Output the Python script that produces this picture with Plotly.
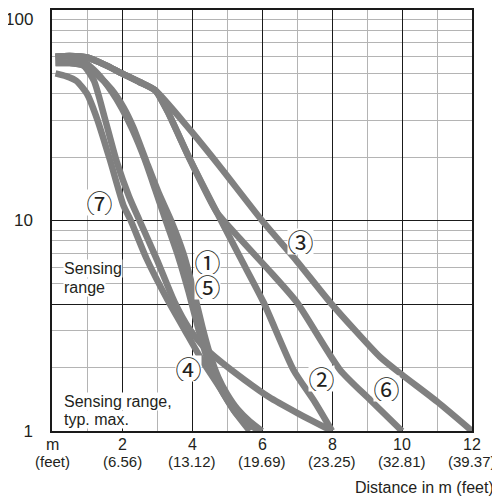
import numpy as np
import plotly.graph_objects as go

# curves, distance in m vs. % (log scale)
c1_x = [0.1, 0.5, 0.9, 1.3, 1.7, 2.0, 2.3, 2.65, 2.95, 3.25, 3.6, 3.9, 4.15, 4.4, 4.65, 4.9, 5.25, 5.6, 5.94]
c1_y = [60, 60, 57, 50, 41, 34, 27, 19.5, 14, 10, 6.8, 4.6, 3.2, 2.3, 1.8, 1.5, 1.22, 1.08, 1.0]

c2_x = [0.1, 0.5, 1.0, 1.5, 2.0, 2.5, 2.95, 3.3, 3.94, 4.7, 5.37, 6.04, 6.9, 7.5, 8.0]
c2_y = [60, 60.5, 59.5, 55, 50, 45.5, 41.5, 33, 19.5, 11, 6.7, 4.1, 1.95, 1.38, 1.0]

c3_x = [0.1, 0.5, 1.0, 1.5, 2.0, 2.5, 2.95, 3.94, 4.8, 6.0, 7.0, 7.94, 9.37, 10.0, 11.0, 12.0]
c3_y = [60, 60.5, 59.5, 55, 50, 45.5, 41.5, 27, 18, 10, 6.4, 4.1, 2.25, 1.85, 1.38, 1.0]

c4_x = [0.1, 0.5, 0.9, 1.2, 1.5, 1.85, 2.2, 2.5, 3.0, 3.5, 3.9, 4.3, 4.8, 5.5, 6.2, 7.0, 8.0]
c4_y = [56, 56, 54.5, 46, 31, 19, 13, 10, 6.5, 4.1, 3.1, 2.55, 2.15, 1.75, 1.45, 1.22, 1.0]

c5_x = [0.1, 0.5, 0.9, 1.3, 1.7, 2.04, 2.32, 2.7, 3.05, 3.4, 3.75, 4.05, 4.3, 4.5, 4.75, 5.0, 5.3, 5.65, 6.0]
c5_y = [56, 56, 54.5, 49, 42, 34.6, 27.8, 19, 13.5, 10, 7.0, 4.6, 3.1, 2.35, 1.8, 1.5, 1.27, 1.11, 1.0]

c6_x = [0.1, 0.5, 1.0, 1.5, 2.0, 2.5, 2.95, 3.3, 3.94, 4.7, 5.37, 6.2, 6.99, 8.23, 9.1, 10.0]
c6_y = [60, 60.5, 59.5, 55, 50, 45.5, 41.5, 33, 19.5, 11, 8.2, 5.8, 4.1, 1.95, 1.4, 1.0]

c7_x = [0.1, 0.4, 0.7, 1.0, 1.3, 1.66, 2.04, 2.25, 2.7, 3.3, 3.8, 4.3, 4.8, 5.2, 5.65]
c7_y = [50, 48.5, 46, 40, 30, 19.3, 11.8, 10, 6.6, 4.2, 3.0, 2.15, 1.6, 1.25, 1.0]

curves = [(c1_x, c1_y), (c2_x, c2_y), (c3_x, c3_y), (c4_x, c4_y),
          (c5_x, c5_y), (c6_x, c6_y), (c7_x, c7_y)]

# curve labels (⑤ drawn before ① so ① stays on top)
lab_text = ["⑤", "①", "②", "③", "④", "⑥", "⑦"]
lab_x = [4.44, 4.44, 7.7, 7.09, 3.9, 9.56, 1.37]
lab_y = [4.88, 6.36, 1.78, 7.97, 1.98, 1.59, 12.2]

# axes
x_ticks = [0, 2, 4, 6, 8, 10, 12]
x_minor = [1, 3, 5, 7, 9, 11]
x_m = ["m", "2", "4", "6", "8", "10", "12"]
x_ft = ["(feet)", "(6.56)", "(13.12)", "(19.69)", "(23.25)", "(32.81)", "(39.37)"]
y_ticks = [1, 4, 10, 100]
y_text = ["1", "", "10", ""]
y_minor = [2, 3, 5, 6, 7, 8, 9, 20, 30, 40, 50, 60, 70, 80, 90]

FONT = "Liberation Sans"
TXT = "#231f20"
CURVE = "#808080"

fig = go.Figure()

for cx, cy in curves:
    fig.add_trace(go.Scatter(
        x=cx, y=cy, mode="lines",
        line=dict(color=CURVE, width=6.5, shape="spline", smoothing=0.6),
        showlegend=False, hoverinfo="skip",
    ))

for t, lx, ly in zip(lab_text, lab_x, lab_y):
    fig.add_annotation(
        x=lx, y=np.log10(ly), text=t, showarrow=False,
        font=dict(family="Noto Sans CJK JP", size=26, color=TXT),
        bgcolor="white", borderpad=0, height=25, width=25,
    )

# text boxes
fig.add_annotation(x=0.31, y=np.log10(5.9), text="Sensing", xanchor="left",
                   showarrow=False, font=dict(family=FONT, size=16, color=TXT),
                   bgcolor="white", borderpad=0)
fig.add_annotation(x=0.31, y=np.log10(4.8), text="range", xanchor="left",
                   showarrow=False, font=dict(family=FONT, size=16, color=TXT),
                   bgcolor="white", borderpad=0)
fig.add_annotation(x=0.31, y=np.log10(1.38), text="Sensing range,", xanchor="left",
                   showarrow=False, font=dict(family=FONT, size=16, color=TXT),
                   bgcolor="white", borderpad=0)
fig.add_annotation(x=0.31, y=np.log10(1.14), text="typ. max.", xanchor="left",
                   showarrow=False, font=dict(family=FONT, size=16, color=TXT),
                   bgcolor="white", borderpad=0)

# top tick label, kept inside the page
fig.add_annotation(x=0, xref="paper", xanchor="right", xshift=-17,
                   y=1, yref="paper", yanchor="top", yshift=2,
                   text="100", showarrow=False,
                   font=dict(family=FONT, size=17, color=TXT))

for xv, m, ft in zip(x_ticks, x_m, x_ft):
    fig.add_annotation(x=xv, y=0, yref="paper", text=m, showarrow=False,
                       yanchor="middle", yshift=-13,
                       font=dict(family=FONT, size=16, color=TXT))
    fig.add_annotation(x=xv, y=0, yref="paper", text=ft, showarrow=False,
                       yanchor="middle", yshift=-30,
                       font=dict(family=FONT, size=15, color=TXT))

fig.add_annotation(x=1, xref="paper", xanchor="right", xshift=24,
                   y=0, yref="paper", yanchor="middle", yshift=-56,
                   text="Distance in m (feet)", showarrow=False,
                   font=dict(family=FONT, size=16, color=TXT))

fig.update_xaxes(
    range=[0, 12], tickvals=x_ticks, showticklabels=False, ticks="",
    showgrid=True, gridcolor="#1a1a1a", gridwidth=1.3,
    minor=dict(tickvals=x_minor, showgrid=True, gridcolor="#b4b4b4", gridwidth=1.3, ticks=""),
    showline=True, mirror=True, linecolor="#1a1a1a", linewidth=1.5,
    zeroline=False, automargin=False,
)
fig.update_yaxes(
    type="log", range=[0, 2], tickvals=y_ticks, ticktext=y_text, ticks="",
    tickfont=dict(family=FONT, size=17, color=TXT), ticklabelstandoff=14,
    showgrid=True, gridcolor="#1a1a1a", gridwidth=1.3,
    minor=dict(tickvals=y_minor, showgrid=True, gridcolor="#b4b4b4", gridwidth=1.3, ticks=""),
    showline=True, mirror=True, linecolor="#1a1a1a", linewidth=1.5,
    zeroline=False, automargin=False,
)

# page body adds an 8px offset, so the figure is 492 wide/high
fig.update_layout(
    width=492, height=492,
    margin=dict(l=44, r=28, t=2, b=69, autoexpand=False),
    paper_bgcolor="white", plot_bgcolor="white",
    showlegend=False,
)

fig.write_html("out.html")
